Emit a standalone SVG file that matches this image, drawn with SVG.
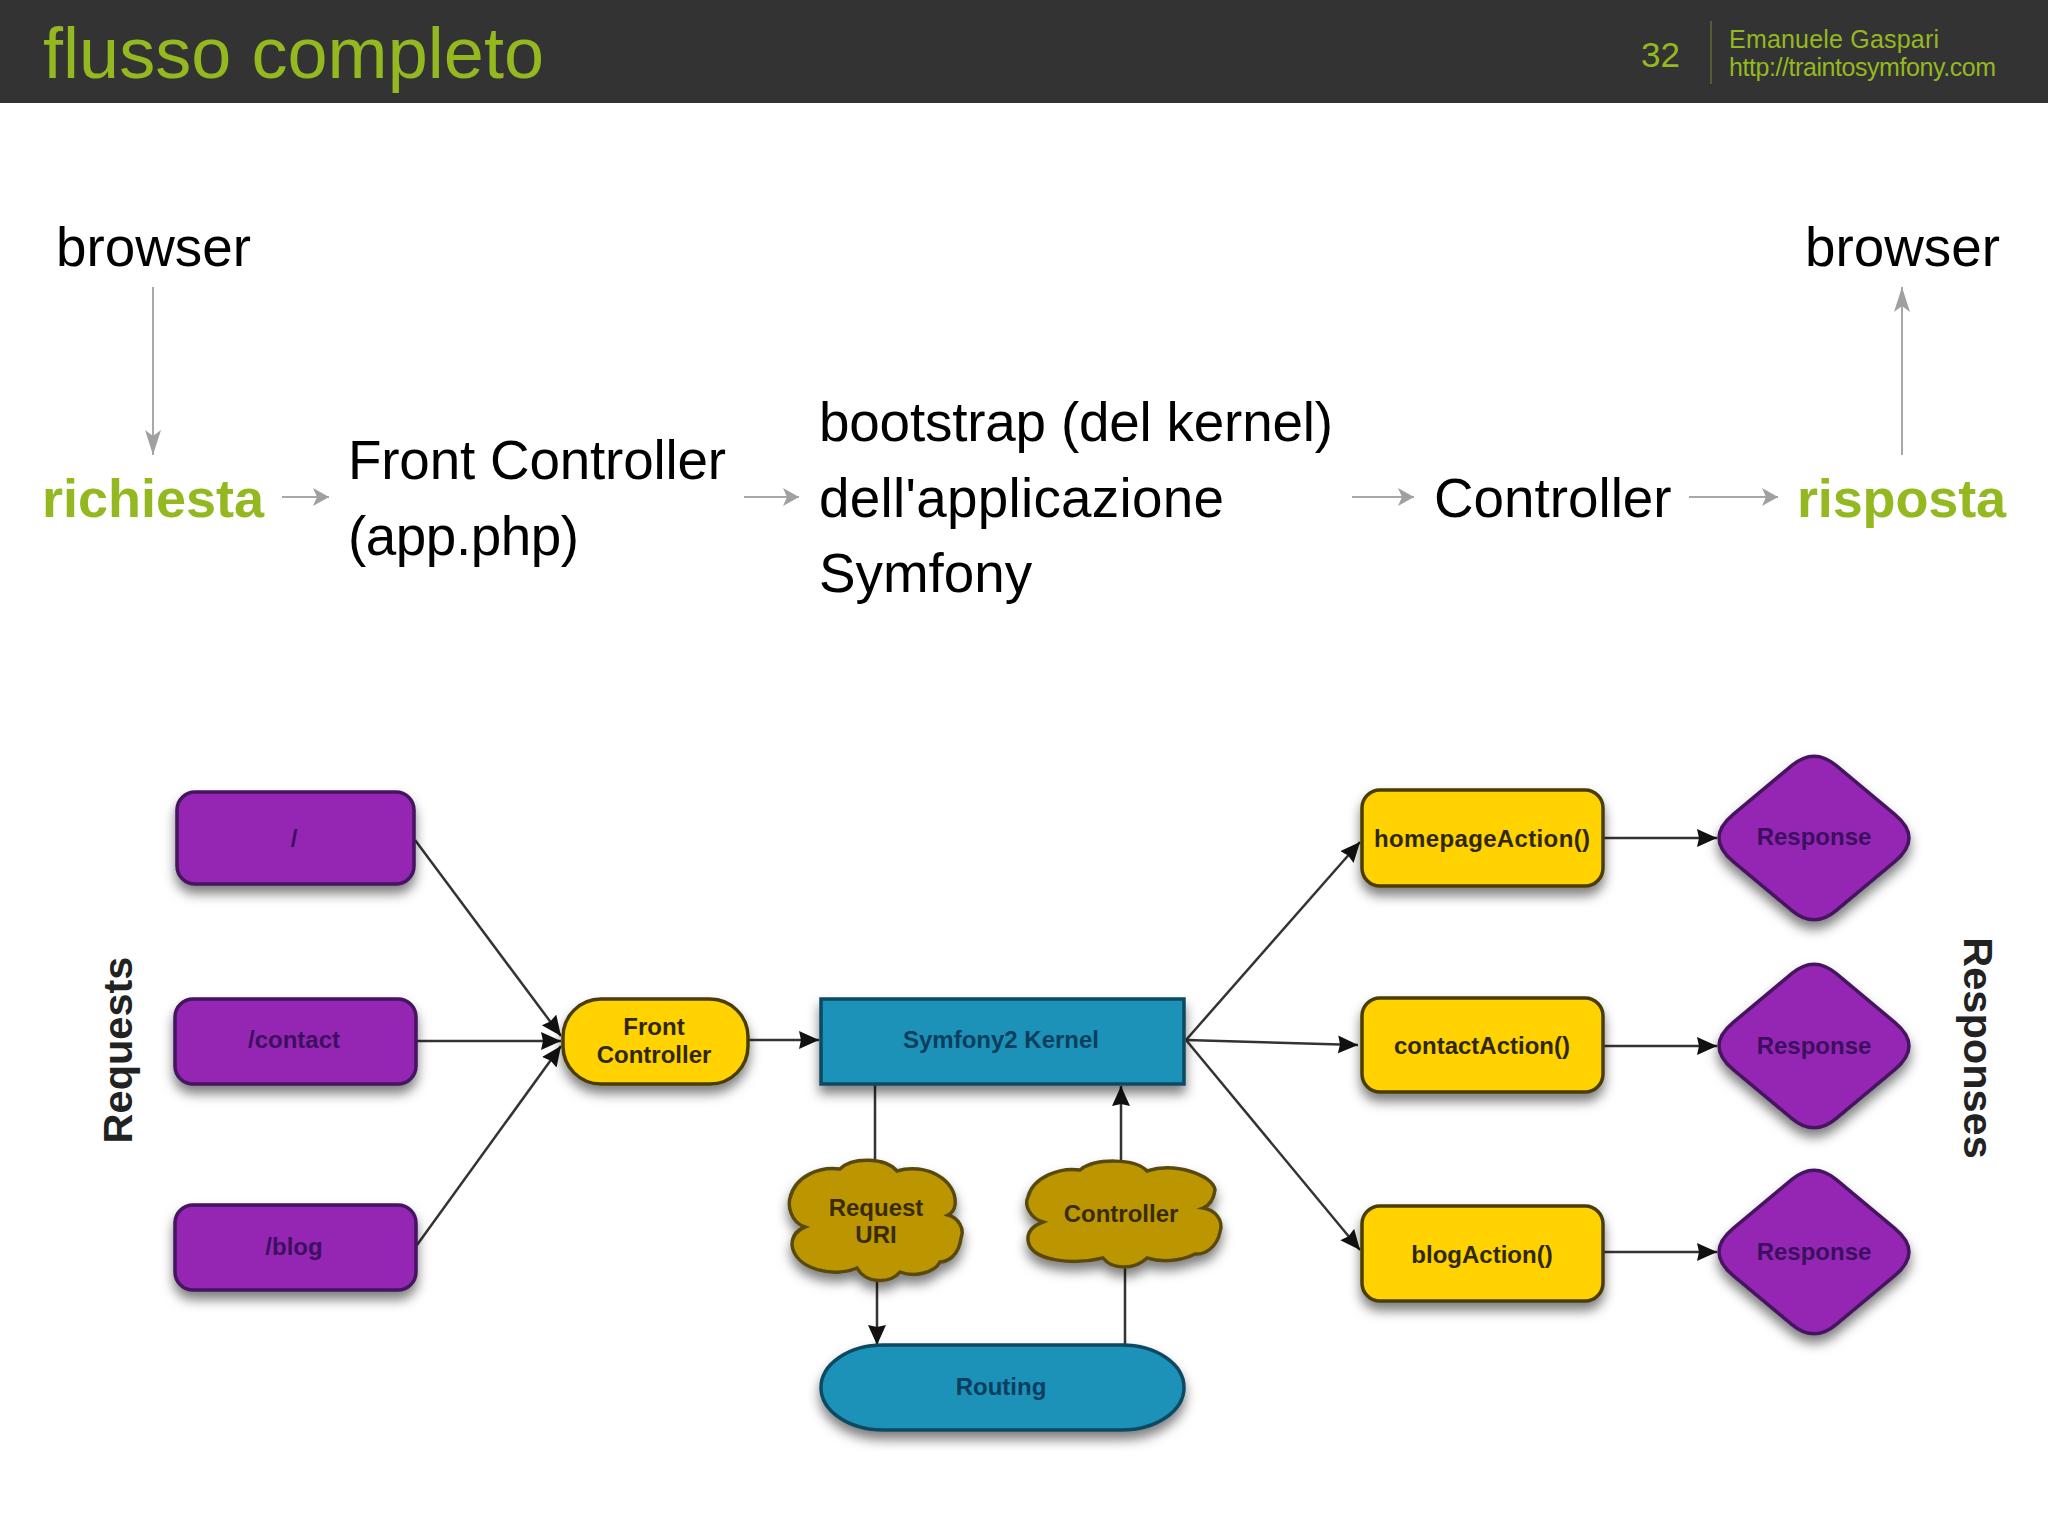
<svg xmlns="http://www.w3.org/2000/svg" width="2048" height="1535" viewBox="0 0 2048 1535">
<style>
text{font-family:"Liberation Sans",Arial,sans-serif}
.g{fill:#94b81f}
.big{font-size:54.8px;fill:#000}
.bigb{font-size:54px;font-weight:bold;fill:#94b81f}
.lab{font-size:24px;font-weight:bold;text-anchor:middle}
.side{font-size:41.5px;font-weight:bold;fill:#222;text-anchor:middle}
.pur{fill:#9427b3;stroke:#45155f;stroke-width:3.5}
.yel{fill:#ffd200;stroke:#4a3c00;stroke-width:3.5}
.blu{fill:#1f92b8;stroke:#0c4a62;stroke-width:3.5}
.cld{fill:#bb9606;stroke:#5a4a10;stroke-width:3.5}
.tp{fill:#3d0f60}.ty{fill:#2f2700}.tb{fill:#0b3e5e}.tc{fill:#3a2b05}
.gl{stroke:#a8a8a8;stroke-width:2;fill:none}
.bl{stroke:#333;stroke-width:2.5;fill:none}
.shape{filter:url(#sh)}
</style>
<defs>
<filter id="sh" x="-20%" y="-20%" width="140%" height="150%"><feDropShadow dx="0" dy="8" stdDeviation="6" flood-color="#000" flood-opacity="0.5"/></filter>
<marker id="ga" markerUnits="userSpaceOnUse" markerWidth="18" markerHeight="20" refX="16" refY="9" orient="auto"><path d="M0 0L16 9L0 18L4 9Z" fill="#a0a0a0"/></marker>
<marker id="gb" markerUnits="userSpaceOnUse" markerWidth="26" markerHeight="18" refX="25" refY="8" orient="auto"><path d="M0 0L25 8L0 16L6 8Z" fill="#a0a0a0"/></marker>
<marker id="ba" markerUnits="userSpaceOnUse" markerWidth="22" markerHeight="20" refX="20" refY="9" orient="auto"><path d="M0 0L20 9L0 18L2 9Z" fill="#111"/></marker>
<path id="dia" d="M22 -72.6L81 -23.4Q109 0 81 23.4L22 72.6Q0 91 -22 72.6L-81 23.4Q-109 0 -81 -23.4L-22 -72.6Q0 -91 22 -72.6Z"/>
</defs>
<rect width="2048" height="1535" fill="#fff"/>
<g id="header">
<rect width="2048" height="103" fill="#333"/>
<text class="g" x="43" y="78" font-size="72" textLength="501">flusso completo</text>
<text class="g" x="1641" y="67" font-size="35">32</text>
<line x1="1711" y1="21" x2="1711" y2="84" stroke="#5f6a3a" stroke-width="1.5"/>
<text class="g" x="1729" y="48" font-size="25" textLength="210">Emanuele Gaspari</text>
<text class="g" x="1729" y="76" font-size="25" textLength="267">http://traintosymfony.com</text>
</g>
<g id="flow-connectors">
<line class="gl" x1="153" y1="287" x2="153" y2="455" marker-end="url(#gb)"/>
<line class="gl" x1="282" y1="497" x2="329" y2="497" marker-end="url(#ga)"/>
<line class="gl" x1="744" y1="497" x2="799" y2="497" marker-end="url(#ga)"/>
<line class="gl" x1="1352" y1="497" x2="1414" y2="497" marker-end="url(#ga)"/>
<line class="gl" x1="1689" y1="497" x2="1778" y2="497" marker-end="url(#ga)"/>
<line class="gl" x1="1902" y1="455" x2="1902" y2="287" marker-end="url(#gb)"/>
</g>
<g id="flow-browser-in"><text class="big" x="56" y="266">browser</text></g>
<g id="flow-browser-out"><text class="big" x="1805" y="266">browser</text></g>
<g id="flow-richiesta"><text class="bigb" x="42" y="517" textLength="222">richiesta</text></g>
<g id="flow-front"><text class="big" x="348" y="479" textLength="378">Front Controller</text><text class="big" x="348" y="555" textLength="231">(app.php)</text></g>
<g id="flow-bootstrap"><text class="big" x="819" y="441" textLength="514">bootstrap (del kernel)</text><text class="big" x="819" y="517" textLength="405">dell'applicazione</text><text class="big" x="819" y="592">Symfony</text></g>
<g id="flow-controller"><text class="big" x="1434" y="517">Controller</text></g>
<g id="flow-risposta"><text class="bigb" x="1797" y="517" textLength="209">risposta</text></g>
<g id="connectors">
<line class="bl" x1="415" y1="840" x2="561" y2="1036" marker-end="url(#ba)"/>
<line class="bl" x1="417" y1="1041" x2="561" y2="1041" marker-end="url(#ba)"/>
<line class="bl" x1="417" y1="1245" x2="561" y2="1046" marker-end="url(#ba)"/>
<line class="bl" x1="748" y1="1040" x2="819" y2="1040" marker-end="url(#ba)"/>
<line class="bl" x1="875" y1="1084" x2="875" y2="1162"/>
<line class="bl" x1="877" y1="1280" x2="877" y2="1345" marker-end="url(#ba)"/>
<line class="bl" x1="1121" y1="1162" x2="1121" y2="1086" marker-end="url(#ba)"/>
<line class="bl" x1="1125" y1="1268" x2="1125" y2="1345"/>
<line class="bl" x1="1186" y1="1040" x2="1360" y2="842" marker-end="url(#ba)"/>
<line class="bl" x1="1186" y1="1040" x2="1358" y2="1045" marker-end="url(#ba)"/>
<line class="bl" x1="1186" y1="1040" x2="1360" y2="1250" marker-end="url(#ba)"/>
<line class="bl" x1="1604" y1="838" x2="1717" y2="838" marker-end="url(#ba)"/>
<line class="bl" x1="1604" y1="1046" x2="1717" y2="1046" marker-end="url(#ba)"/>
<line class="bl" x1="1604" y1="1252" x2="1717" y2="1252" marker-end="url(#ba)"/>
</g>
<g id="label-requests"><text class="side" transform="translate(132 1050) rotate(-90)">Requests</text></g>
<g id="label-responses"><text class="side" transform="translate(1964 1048) rotate(90)">Responses</text></g>
<g id="req-root"><rect class="pur shape" x="177" y="792" width="237" height="92" rx="18"/><text class="lab tp" x="294" y="847">/</text></g>
<g id="req-contact"><rect class="pur shape" x="175" y="999" width="241" height="85" rx="18"/><text class="lab tp" x="294" y="1048">/contact</text></g>
<g id="req-blog"><rect class="pur shape" x="175" y="1205" width="241" height="85" rx="18"/><text class="lab tp" x="294" y="1255">/blog</text></g>
<g id="front-controller"><rect class="yel shape" x="563" y="999" width="185" height="85" rx="38"/><text class="lab ty" x="654" y="1035">Front</text><text class="lab ty" x="654" y="1063">Controller</text></g>
<g id="kernel"><rect class="blu shape" x="821" y="999" width="363" height="85"/><text class="lab tb" x="1001" y="1048">Symfony2 Kernel</text></g>
<g id="request-uri"><path class="cld shape" d="M840 1169C852 1157 885 1157 897 1171C925 1162 958 1180 955 1205Q954 1212 948 1215C958 1218 965 1228 961 1238C959 1255 948 1262 940 1262C935 1272 915 1278 900 1272C890 1284 866 1284 857 1268C835 1278 795 1270 792 1245Q792 1232 805 1227C790 1222 788 1205 790 1198C795 1176 820 1166 840 1169Z"/><text class="lab tc" x="876" y="1216">Request</text><text class="lab tc" x="876" y="1243">URI</text></g>
<g id="controller-cloud"><path class="cld shape" d="M1080 1170C1095 1158 1135 1158 1147 1171C1175 1162 1213 1175 1215 1190Q1213 1204 1203 1208C1215 1210 1224 1220 1220 1232C1217 1247 1205 1255 1195 1254C1180 1262 1160 1262 1147 1258C1135 1270 1112 1270 1103 1258C1075 1265 1030 1262 1028 1240Q1027 1228 1043 1222C1030 1218 1024 1205 1028 1197C1033 1177 1060 1167 1080 1170Z"/><text class="lab tc" x="1121" y="1222">Controller</text></g>
<g id="routing"><rect class="blu shape" x="821" y="1345" width="363" height="85" rx="62" ry="42.5"/><text class="lab tb" x="1001" y="1395">Routing</text></g>
<g id="homepage-action"><rect class="yel shape" x="1362" y="790" width="241" height="96" rx="18"/><text class="lab ty" x="1482" y="847" textLength="216">homepageAction()</text></g>
<g id="contact-action"><rect class="yel shape" x="1362" y="998" width="241" height="94" rx="18"/><text class="lab ty" x="1482" y="1054">contactAction()</text></g>
<g id="blog-action"><rect class="yel shape" x="1362" y="1206" width="241" height="95" rx="18"/><text class="lab ty" x="1482" y="1263">blogAction()</text></g>
<g id="response-1"><use href="#dia" class="pur shape" transform="translate(1814 838)"/><text class="lab tp" x="1814" y="845">Response</text></g>
<g id="response-2"><use href="#dia" class="pur shape" transform="translate(1814 1046)"/><text class="lab tp" x="1814" y="1054">Response</text></g>
<g id="response-3"><use href="#dia" class="pur shape" transform="translate(1814 1252)"/><text class="lab tp" x="1814" y="1260">Response</text></g>
</svg>
